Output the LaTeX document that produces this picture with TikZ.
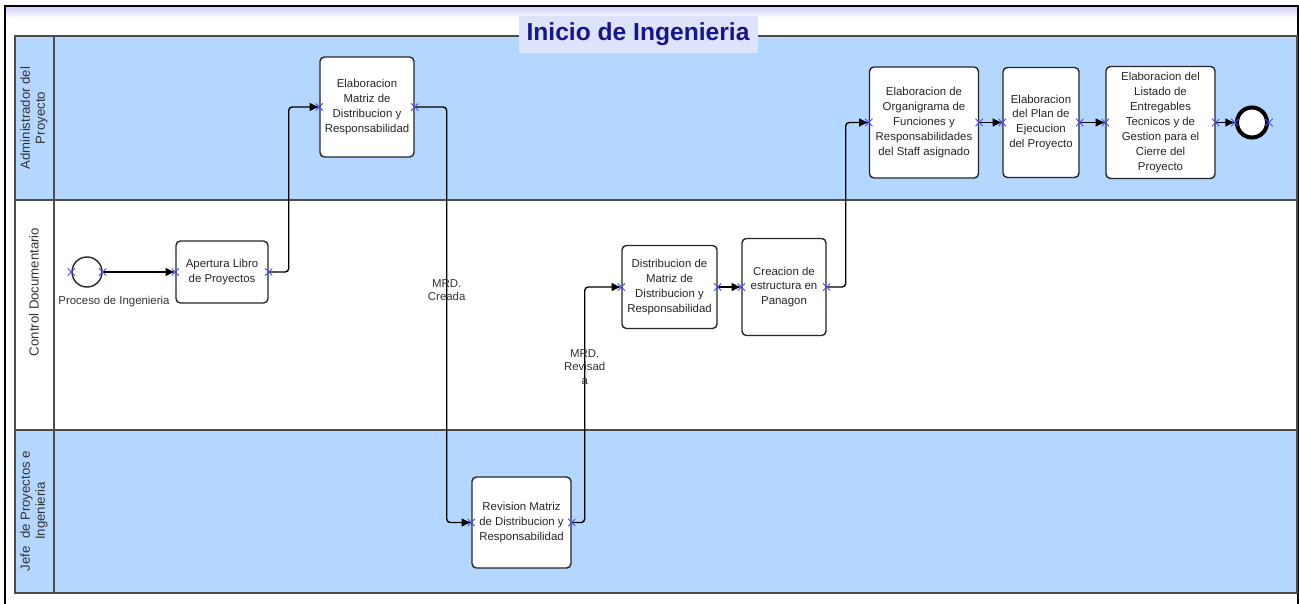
\documentclass[tikz,border=0pt]{standalone}
\usepackage{fontspec}
\setmainfont{Liberation Sans}
\usetikzlibrary{positioning, calc, arrows.meta}
\tikzset{>={Latex[length=5.5pt,width=5pt]}}
\definecolor{lanefill}{RGB}{180,215,255}
\definecolor{titleblue}{RGB}{22,22,140}
\definecolor{titlefill}{RGB}{222,226,250}
\definecolor{cpblue}{RGB}{70,70,255}

\begin{document}
\begin{tikzpicture}
    [
        x=0.2mm, y=-0.2mm,
        lane_line/.style={draw=black!70, line width=1pt},
        task_node/.style={rectangle, rounded corners=2.5pt, draw=black!85, fill=white, line width=0.8pt, align=center, inner sep=1pt, font=\fontsize{6.5}{8.5}\selectfont, text=black!85},
        start_node/.style={circle, draw=black!85, fill=white, line width=0.8pt, minimum size=6mm, inner sep=0pt},
        end_node/.style={circle, draw=black, fill=white, line width=2.3pt, minimum size=6mm, inner sep=0pt},
        lane_label/.style={rotate=90, align=center, font=\fontsize{7.5}{8.5}\selectfont, text=black!80},
        title_node/.style={fill=titlefill, text=titleblue, font=\fontsize{14}{16}\selectfont\bfseries, minimum width=47.8mm, minimum height=7.4mm, inner sep=0pt},
        flow/.style={->, draw=black, line width=0.8pt, rounded corners=2pt},
        flow_label/.style={align=center, font=\fontsize{6.5}{7.5}\selectfont, text=black!80, inner sep=0pt},
        xmark/.style={inner sep=0pt, minimum size=1.5mm, path picture={\draw[cpblue, line width=0.5pt] (path picture bounding box.north west) -- (path picture bounding box.south east) (path picture bounding box.south west) -- (path picture bounding box.north east);}},
    ]

  \useasboundingbox (0,0) rectangle (1299,604);

  % frame and pool
  \shade[top color=blue!18, bottom color=white] (6,7) rectangle (1297,18);
  \draw[line width=1.2pt] (5,610) -- (5,6) -- (1298,6) -- (1298,610);
  \fill[lanefill] (15,36) rectangle (1297,200);
  \fill[lanefill] (15,430) rectangle (1297,593);
  \draw[lane_line] (15,36) rectangle (1297,593);
  \draw[lane_line] (15,200) -- (1297,200);
  \draw[lane_line] (15,430) -- (1297,430);
  \draw[lane_line] (54,36) -- (54,593);

  \node[title_node] (title) at (638,34.5) {Inicio de Ingenieria};

  % lanes
  \node[lane_label] (adm) at (34,118) {Administrador del\\Proyecto};
  \node[lane_label] (ctrl) at (34,292) {Control Documentario};
  \node[lane_label] (jefe) at (34,511) {Jefe\ \ de Proyectos e\\Ingenieria};

  % tasks
  \node[start_node] (start) at (87,272) {};
  \node[flow_label, font=\fontsize{6.5}{8.5}\selectfont] (proceso) at (114,302) {Proceso de Ingenieria};
  \node[task_node, minimum width=18.4mm, minimum height=12.4mm] (apertura) at (222,272) {Apertura Libro\\de Proyectos};
  \node[task_node, minimum width=18.8mm, minimum height=20mm] (elabmatriz) at (367,107) {Elaboracion\\Matriz de\\Distribucion y\\Responsabilidad};
  \node[task_node, minimum width=19.8mm, minimum height=18.2mm] (revision) at (521.5,522.5) {Revision Matriz\\de Distribucion y\\Responsabilidad};
  \node[task_node, minimum width=19mm, minimum height=16.6mm] (distrib) at (669.5,287) {Distribucion de\\Matriz de\\Distribucion y\\Responsabilidad};
  \node[task_node, minimum width=16.8mm, minimum height=19.4mm] (creacion) at (784,287) {Creacion de\\estructura en\\Panagon};
  \node[task_node, minimum width=21.8mm, minimum height=22.2mm] (organigrama) at (924,122.5) {Elaboracion de\\Organigrama de\\Funciones y\\Responsabilidades\\del Staff asignado};
  \node[task_node, minimum width=15.2mm, minimum height=22mm] (plan) at (1041,122.5) {Elaboracion\\del Plan de\\Ejecucion\\del Proyecto};
  \node[task_node, minimum width=21.8mm, minimum height=22.4mm] (listado) at (1160.5,122.5) {Elaboracion del\\Listado de\\Entregables\\Tecnicos y de\\Gestion para el\\Cierre del\\Proyecto};
  \node[end_node] (fin) at (1252,122.5) {};

  % flows
  \draw[flow] (start.east) -- (apertura.west);
  \draw[flow] (apertura.east) -- ++(20,0) |- (elabmatriz.west);
  \draw[flow] (elabmatriz.east) -- ++(32,0) |- node[flow_label, pos=0.22] (mrdcreada) {MRD.\\Creada} (revision.west);
  \draw[flow] (revision.east) -- ++(13,0) |- node[flow_label, pos=0.33] (mrdrevisada) {MRD.\\Revisad\\a} (distrib.west);
  \draw[flow] (distrib.east) -- (creacion.west);
  \draw[flow] (creacion.east) -- ++(19,0) |- (organigrama.west);
  \draw[flow] (organigrama.east) -- (plan.west);
  \draw[flow] (plan.east) -- (listado.west);
  \draw[flow] (listado.east) -- (fin.west);

  % connection points
  \foreach \n in {start, apertura, elabmatriz, revision, distrib, creacion, organigrama, plan, listado, fin}
  {
    \node[xmark] (\n-e) at (\n.east) {};
    \node[xmark] (\n-w) at (\n.west) {};
  }
\end{tikzpicture}
\end{document}
